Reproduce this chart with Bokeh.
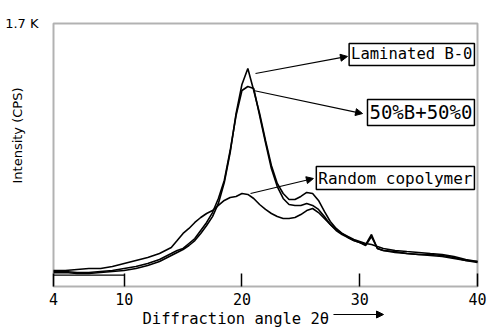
from bokeh.plotting import figure
from bokeh.models import Label, Arrow, NormalHead, FixedTicker, Range1d, BoxAnnotation
from bokeh.embed import file_html
from bokeh.resources import INLINE
import math

# ---- data ----
angles = [4, 5, 6, 7, 8, 9, 10, 11, 12, 13, 14,
          14.5, 15, 15.5, 16, 16.5, 17, 17.5, 18, 18.5, 19,
          19.5, 20, 20.5, 21, 21.5, 22, 22.5, 23, 23.5, 24,
          24.5, 25, 25.5, 26, 26.5, 27, 27.5, 28, 28.5, 29,
          29.5, 30, 30.5, 31, 31.5,
          32, 33, 34, 35, 36, 37, 38, 39, 40]

laminated = [90, 90, 84, 84, 90, 97, 103, 116, 136, 162, 200,
             220, 239, 265, 297, 343, 394, 452, 537, 672, 866,
             1118, 1306, 1409, 1267, 1118, 944, 782, 666, 601, 562,
             562, 582, 608, 601, 556, 485, 420, 375, 343, 317,
             297, 284, 271, 336, 246,
             233, 226, 213, 207, 207, 200, 187, 168, 162]

blend = [97, 97, 90, 90, 97, 103, 116, 129, 149, 175, 213,
         233, 246, 278, 310, 362, 414, 478, 569, 685, 879,
         1105, 1267, 1293, 1280, 1105, 931, 763, 646, 569, 530,
         524, 524, 537, 524, 498, 452, 401, 362, 336, 317,
         297, 284, 265, 323, 246,
         233, 220, 213, 207, 200, 194, 181, 168, 155]

random_cop = [103, 103, 110, 116, 116, 129, 149, 168, 187, 213, 252,
              297, 343, 375, 414, 446, 472, 491, 524, 556, 575,
              582, 601, 595, 569, 530, 498, 472, 452, 440, 440,
              446, 465, 491, 504, 478, 440, 401, 368, 343, 323,
              304, 291, 278, 271, 259,
              246, 233, 226, 220, 213, 207, 194, 175, 162]

baseline_x = [4, 10]
baseline_y = [74, 74]

x_ticks = [4, 10, 20, 30, 40]
x_min, x_max = 4, 40
y_max = 1700
y_top_label = "1.7 K"

# layout: plot frame occupies px 53..477 x 23..286 of a 488x328 canvas
PX_PER_DEG = 424 / 36.0
CPS_PER_PX = 1700 / 263.0

p = figure(width=488, height=328, output_backend="svg", toolbar_location=None,
           x_range=Range1d(x_min - 53 / PX_PER_DEG, x_min + 435 / PX_PER_DEG),
           y_range=Range1d(-42 * CPS_PER_PX, 286 * CPS_PER_PX),
           min_border=0, min_border_left=0, min_border_right=0,
           min_border_top=0, min_border_bottom=0)
p.background_fill_color = "white"
p.border_fill_color = "white"
p.outline_line_color = None
p.grid.visible = False

xa = p.xaxis[0]
xa.fixed_location = 0
xa.ticker = FixedTicker(ticks=x_ticks)
xa.axis_line_color = None
xa.major_tick_in = 13
xa.major_tick_out = 0
xa.minor_tick_in = 0
xa.minor_tick_out = 0
xa.major_tick_line_width = 1.5
xa.major_tick_line_color = "black"
xa.major_label_standoff = 6
xa.major_label_text_font = "DejaVu Sans Mono"
xa.major_label_text_font_size = "15px"
xa.major_label_text_color = "black"

ya = p.yaxis[0]
ya.fixed_location = x_min
ya.ticker = FixedTicker(ticks=[y_max])
ya.major_label_overrides = {y_max: y_top_label}
ya.axis_line_color = None
ya.major_tick_in = 0
ya.major_tick_out = 0
ya.minor_tick_in = 0
ya.minor_tick_out = 0
ya.major_label_standoff = 15
ya.major_label_text_font = "DejaVu Sans"
ya.major_label_text_font_size = "13px"
ya.major_label_text_color = "black"

# plot frame
p.add_layout(BoxAnnotation(left=x_min, right=x_max, bottom=0, top=y_max,
                           fill_alpha=0, line_color="black", line_width=2))

for ys in (laminated, blend, random_cop):
    p.line(angles, ys, line_color="black", line_width=1.6)
p.line(baseline_x, baseline_y, line_color="black", line_width=1.2)

# boxed labels
def boxed(txt, x, y, size):
    return Label(x=x, y=y, text=txt, text_align="right", text_baseline="middle",
                 text_font="DejaVu Sans Mono", text_font_size=size, text_color="black",
                 border_line_color="black", border_line_width=1.5,
                 background_fill_color="white", padding=2)

p.add_layout(boxed("Laminated B-0", 39.74, 1500, "15.5px"))
p.add_layout(boxed("50%B+50%0", 39.74, 1125, "19px"))
p.add_layout(boxed("Random copolymer", 39.74, 701, "16px"))

def arr(x0, y0, x1, y1):
    return Arrow(x_start=x0, y_start=y0, x_end=x1, y_end=y1, line_width=1.2,
                 end=NormalHead(size=7, fill_color="black", line_color="black"))

p.add_layout(arr(21.15, 1377, 28.96, 1487))
p.add_layout(arr(20.98, 1267, 30.24, 1118))
p.add_layout(arr(20.73, 601, 26.07, 698))

# axis titles
p.add_layout(Label(x=0.94, y=976, text="Intensity (CPS)", angle=math.pi / 2,
                   text_align="center", text_baseline="middle",
                   text_font="DejaVu Sans", text_font_size="13px", text_color="black"))
p.add_layout(Label(x=11.56, y=-207, text="Diffraction angle 2θ", text_align="left",
                   text_baseline="alphabetic",
                   text_font="DejaVu Sans Mono", text_font_size="15.5px", text_color="black"))
p.add_layout(Arrow(x_start=27.77, y_start=-181, x_end=32.02, y_end=-181, line_width=1.2,
                   end=NormalHead(size=7, fill_color="black", line_color="black")))

open("out.html", "w").write(file_html(p, INLINE))
